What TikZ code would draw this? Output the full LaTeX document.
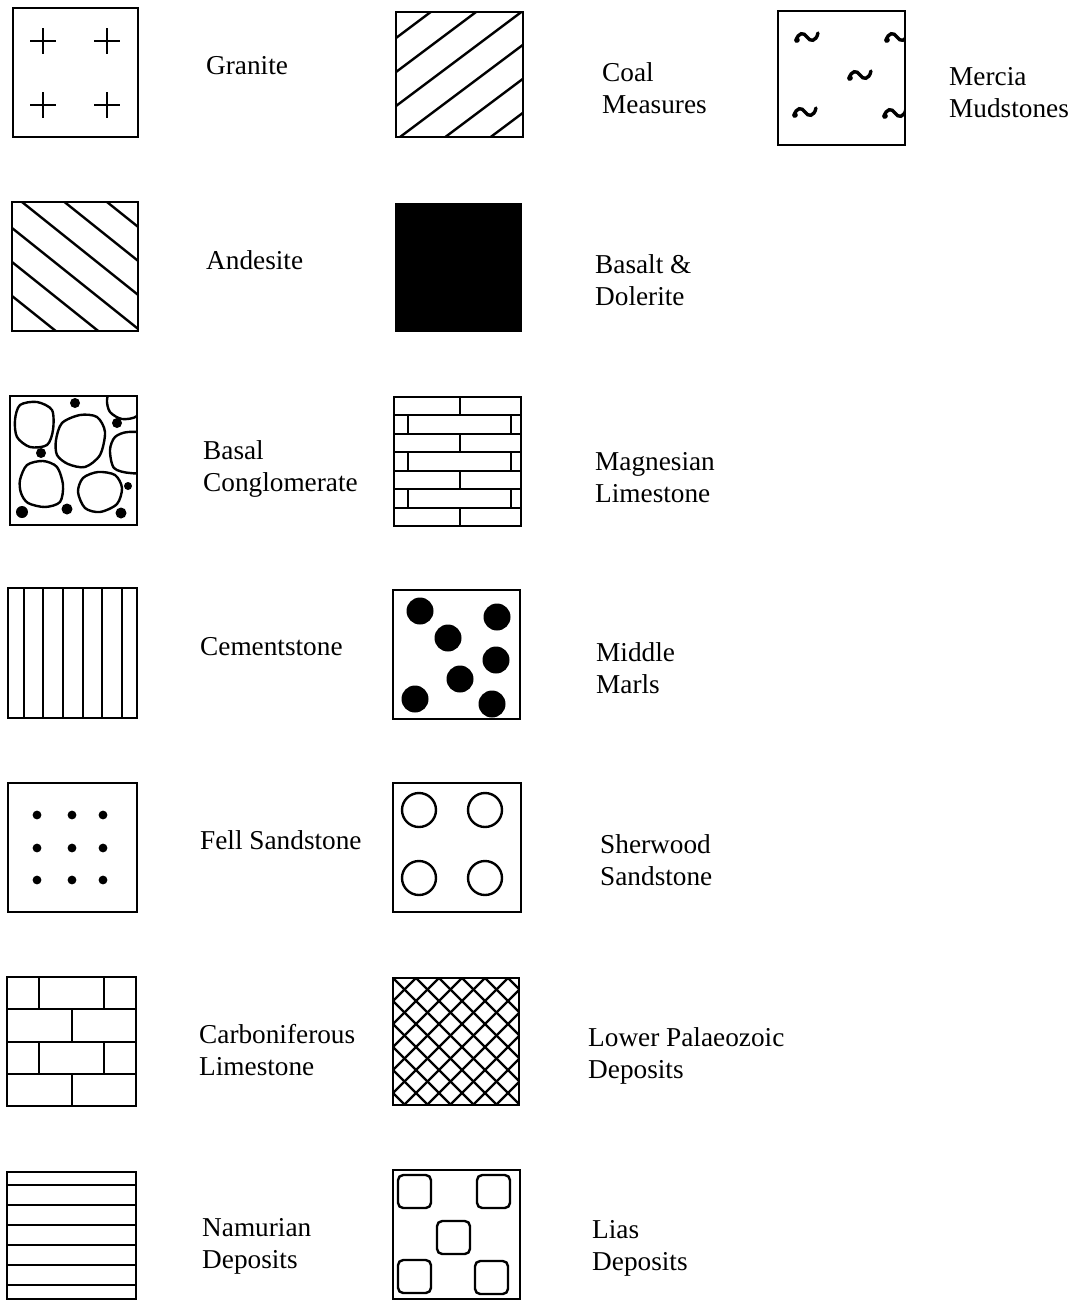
\documentclass[tikz,border=0pt]{standalone}
\usepackage{fontspec}
\setmainfont{Liberation Serif}
\begin{document}
\begin{tikzpicture}[x=0.25mm,y=-0.25mm,line width=0.6mm,
	lbl/.style={anchor=west,inner sep=0pt,align=left,font=\fontsize{19.4}{22.7}\selectfont},
	legbox/.style={line width=0.7mm},
	mud/.pic={\draw[line width=0.85mm,line cap=round] (-11,4) .. controls (-9,-5) and (-3,-5) .. (0,0) .. controls (3,5) and (9,5) .. (11,-4);
		\fill (-10,3) circle (2.8);}]
	\useasboundingbox (0,0) rectangle (1081,1300);
	%	Granite
	\draw[legbox] (13,8) rectangle (138,137);
	\foreach \x/\y in {43/41,107/41,43/105,107/105}
	\draw (\x-13,\y)--(\x+13,\y) (\x,\y-13)--(\x,\y+13);
	%	Andesite
	\begin{scope}
		\clip (12,202) rectangle (138,331);
		\foreach \c in {126,160,...,296}
		\draw (12,\c)--(138,\c+100.8);
	\end{scope}
	\draw[legbox] (12,202) rectangle (138,331);
	%	Basal Conglomerate
	\begin{scope}
		\clip (10,396) rectangle (137,525);
		\draw plot[smooth cycle] coordinates {(15,420) (20,405) (37,402) (52,410) (53,430) (47,445) (30,447) (17,437)};
		\draw plot[smooth cycle] coordinates {(56,440) (62,423) (80,415) (97,417) (105,432) (100,455) (85,467) (68,464) (57,455)};
		\draw plot[smooth cycle] coordinates {(107,400) (112,390) (135,388) (143,400) (137,416) (122,419) (110,412)};
		\draw plot[smooth cycle] coordinates {(110,450) (115,437) (128,432) (145,436) (145,470) (130,473) (114,468)};
		\draw plot[smooth cycle] coordinates {(20,480) (27,465) (43,461) (57,467) (63,485) (60,502) (45,507) (28,503) (21,493)};
		\draw plot[smooth cycle] coordinates {(78,492) (83,478) (98,472) (115,475) (122,488) (117,504) (100,512) (85,508)};
		\foreach \x/\y/\r in {75/403/5,117/423/5,41/453/5,128/486/4,22/512/6,67/509/5.5,121/513/5.5}
		\fill (\x,\y) circle (\r);
	\end{scope}
	\draw[legbox] (10,396) rectangle (137,525);
	%	Cementstone
	\draw[legbox] (8,588) rectangle (137,718);
	\foreach \x in {24,43,63,83,102,122}
	\draw (\x,588)--(\x,718);
	%	Fell Sandstone
	\draw[legbox] (8,783) rectangle (137,912);
	\foreach \x in {37,72,103}
	\foreach \y in {815,848,880}
	\fill (\x,\y) circle (4.4);
	%	Carboniferous Limestone
	\draw[legbox] (7,977) rectangle (136,1106);
	\draw (7,1009)--(136,1009) (7,1042)--(136,1042) (7,1074)--(136,1074);
	\draw (39,977)--(39,1009) (104,977)--(104,1009) (72,1009)--(72,1042)
	(39,1042)--(39,1074) (104,1042)--(104,1074) (72,1074)--(72,1106);
	%	Namurian Deposits
	\draw[legbox] (7,1172) rectangle (136,1299);
	\foreach \y in {1185,1205,...,1285}
	\draw (7,\y)--(136,\y);
	%	Coal Measures
	\begin{scope}
		\clip (396,12) rectangle (523,137);
		\foreach \c in {38,72,...,208}
		\draw (396,\c)--(523,\c-95.25);
	\end{scope}
	\draw[legbox] (396,12) rectangle (523,137);
	%	Basalt & Dolerite
	\fill (395,203) rectangle (522,332);
	%	Magnesian Limestone
	\draw[legbox] (394,397) rectangle (521,526);
	\foreach \y in {415,434,452,471,489,508}
	\draw (394,\y)--(521,\y);
	\foreach \a/\b in {397/415,434/452,471/489,508/526}
	\draw (460,\a)--(460,\b);
	\foreach \a/\b in {415/434,452/471,489/508}
	\draw (408,\a)--(408,\b) (511,\a)--(511,\b);
	%	Middle Marls
	\draw[legbox] (393,590) rectangle (520,719);
	\foreach \x/\y in {420/611,497/617,448/638,496/660,460/679,415/699,492/704}
	\fill (\x,\y) circle (13.5);
	%	Sherwood Sandstone
	\draw[legbox] (393,783) rectangle (521,912);
	\foreach \x/\y in {419/810,485/810,419/878,485/878}
	\draw (\x,\y) circle (17);
	%	Lower Palaeozoic Deposits
	\begin{scope}
		\clip (393,978) rectangle (519,1105);
		\foreach \a in {255,278,...,530}
		\draw (\a,978)--++(130,130);
		\foreach \a in {393,416,...,660}
		\draw (\a,978)--++(-130,130);
	\end{scope}
	\draw[legbox] (393,978) rectangle (519,1105);
	%	Lias Deposits
	\draw[legbox] (393,1170) rectangle (520,1299);
	\foreach \x/\y in {398/1175,477/1175,437/1221,398/1260,475/1261}
	\draw[rounded corners=1.3mm] (\x,\y) rectangle ++(33,33);
	%	Mercia Mudstones
	\begin{scope}
		\clip (778,11) rectangle (905,145);
		\foreach \x/\y in {807/37,897/37,860/75,805/112,895/113}
		\pic at (\x,\y) {mud};
	\end{scope}
	\draw[legbox] (778,11) rectangle (905,145);
	%	Labels
	\node[lbl] (granite) at (205,66) {Granite};
	\node[lbl] (andesite) at (205,260) {Andesite};
	\node[lbl] (basal) at (202,469) {Basal\\Conglomerate};
	\node[lbl] (cement) at (199,647) {Cementstone};
	\node[lbl] (fell) at (199,840) {Fell Sandstone};
	\node[lbl] (carbon) at (198,1050) {Carboniferous\\Limestone};
	\node[lbl] (namur) at (201,1246) {Namurian\\Deposits};
	\node[lbl] (coal) at (601,88) {Coal\\Measures};
	\node[lbl] (basalt) at (594,280) {Basalt \&\\Dolerite};
	\node[lbl] (magnes) at (594,478) {Magnesian\\Limestone};
	\node[lbl] (marls) at (595,668) {Middle\\Marls};
	\node[lbl] (sherwood) at (599,860) {Sherwood\\Sandstone};
	\node[lbl] (palaeo) at (587,1056) {Lower Palaeozoic\\Deposits};
	\node[lbl] (lias) at (591,1248) {Lias\\Deposits};
	\node[lbl] (mercia) at (948,93) {Mercia\\Mudstones};
\end{tikzpicture}
\end{document}
